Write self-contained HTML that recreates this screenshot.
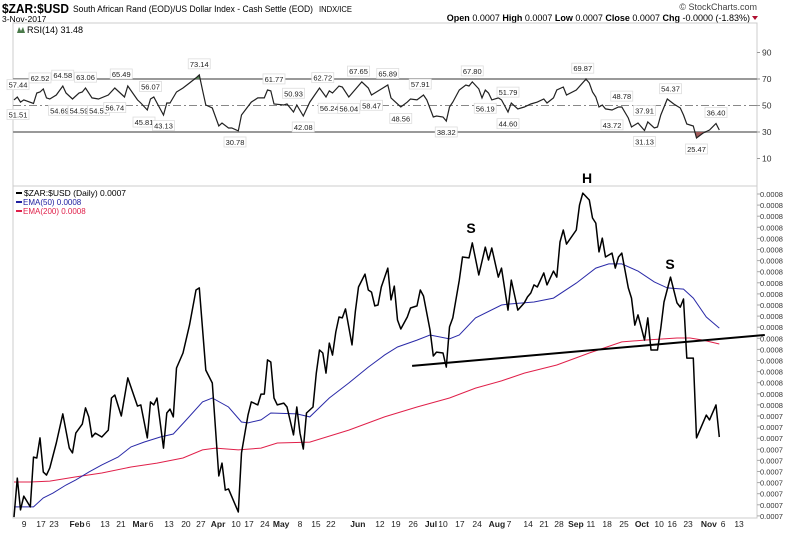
<!DOCTYPE html>
<html><head><meta charset="utf-8"><style>
body{margin:0;background:#fff;width:800px;height:531px;overflow:hidden;font-family:"Liberation Sans",sans-serif}
svg text{font-family:"Liberation Sans",sans-serif}
</style></head><body>
<svg id="chart" width="800" height="531" xmlns="http://www.w3.org/2000/svg">
<g>
<text x="2" y="13" font-size="13" font-weight="bold" textLength="67" lengthAdjust="spacingAndGlyphs">$ZAR:$USD</text>
<text x="73" y="12" font-size="9.5" textLength="240" lengthAdjust="spacingAndGlyphs">South African Rand (EOD)/US Dollar Index - Cash Settle (EOD)</text>
<text x="319" y="12" font-size="8" textLength="33" lengthAdjust="spacingAndGlyphs">INDX/ICE</text>
<text x="2" y="22" font-size="8.5">3-Nov-2017</text>
<text x="757" y="10" font-size="9" text-anchor="end" fill="#444">© StockCharts.com</text>
<text x="750" y="21" font-size="9" text-anchor="end"><tspan font-weight="bold">Open</tspan> 0.0007  <tspan font-weight="bold">High</tspan> 0.0007  <tspan font-weight="bold">Low</tspan> 0.0007  <tspan font-weight="bold">Close</tspan> 0.0007  <tspan font-weight="bold">Chg</tspan> -0.0000 (-1.83%)</text>
<path d="M752,16 L758,16 L755,20 Z" fill="#b01030"/>
</g>
<g>
<rect x="13" y="23" width="744" height="163" fill="none" stroke="#ccc"/>
<path d="M17,33 L19,27 L21,31 L23,27 L25,33 Z" fill="#4a7a4a"/>
<text x="27" y="33" font-size="9" font-family="Liberation Mono">RSI(14) 31.48</text>
<g id="rsiG"></g>
</g>
<g>
<rect x="13" y="186" width="744" height="332" fill="none" stroke="#ccc"/>
<g>
<line x1="16" y1="193" x2="22" y2="193" stroke="#000" stroke-width="2"/>
<text x="24" y="196" font-size="8.5">$ZAR:$USD (Daily) 0.0007</text>
<line x1="16" y1="202" x2="22" y2="202" stroke="#2020a0" stroke-width="2"/>
<text x="23" y="205" font-size="8" fill="#2020a0">EMA(50) 0.0008</text>
<line x1="16" y1="211" x2="22" y2="211" stroke="#e0204a" stroke-width="2"/>
<text x="23" y="214" font-size="8" fill="#e0204a">EMA(200) 0.0008</text>
</g>
<g id="priceG"></g>
<text x="471" y="233" font-size="14" font-weight="bold" text-anchor="middle">S</text>
<text x="587" y="183" font-size="14" font-weight="bold" text-anchor="middle">H</text>
<text x="670" y="269" font-size="14" font-weight="bold" text-anchor="middle">S</text>
</g>
<g id="xAxisG"></g>
</svg>
<script>
const priceDays=[0,1,2,3,5,6,7,8,9,10,11,13,15,17,18,19,21,22,23,24,25,27,29,30,31,33,35,38,39,41,42,43,44,46,47,48,49,50,52,54,56,57,59,61,63,64,65,66,69,70,72,73,75,76,77,78,79,80,81,83,84,86,87,88,89,90,92,93,94,95,96,97,98,99,100,101,102,104,105,106,108,109,110,111,112,113,115,116,117,118,119,121,122,124,125,126,128,129,130,132,133,134,135,137,138,140,141,143,145,146,147,149,150,152,153,155,157,158,159,160,161,163,164,166,167,168,169,170,173,174,175,177,178,179,180,181,182,184,185,186,187,189,190,191,192,194,195,196,198,199,200,202,204,205,206,207,209,210,213,214,216,217];
const priceVals=[6.903,7.033,6.927,6.973,6.937,7.103,7.100,7.167,7.053,7.043,7.067,7.150,7.247,7.133,7.117,7.183,7.213,7.267,7.237,7.170,7.183,7.170,7.193,7.300,7.310,7.240,7.367,7.273,7.277,7.167,7.287,7.277,7.300,7.133,7.250,7.263,7.237,7.400,7.450,7.543,7.660,7.667,7.393,7.350,7.040,7.083,6.993,6.997,6.920,7.117,7.243,7.287,7.277,7.313,7.313,7.427,7.420,7.300,7.277,7.283,7.270,7.177,7.270,7.183,7.130,7.250,7.270,7.383,7.460,7.450,7.383,7.483,7.443,7.520,7.570,7.567,7.597,7.477,7.587,7.670,7.713,7.660,7.653,7.607,7.610,7.670,7.733,7.627,7.673,7.560,7.530,7.570,7.600,7.607,7.660,7.640,7.527,7.440,7.453,7.450,7.403,7.537,7.567,7.693,7.770,7.767,7.817,7.710,7.803,7.760,7.800,7.703,7.733,7.593,7.693,7.593,7.617,7.637,7.650,7.677,7.670,7.717,7.677,7.723,7.703,7.820,7.860,7.813,7.860,7.943,7.983,7.960,7.900,7.883,7.787,7.833,7.770,7.783,7.733,7.770,7.783,7.667,7.633,7.543,7.577,7.493,7.567,7.460,7.460,7.533,7.620,7.703,7.617,7.603,7.630,7.433,7.433,7.167,7.243,7.227,7.277,7.170];
const ema50Days=[0,6,9,12,16,19,23,27,32,36,40,45,49,53,58,61,66,70,72,76,79,87,91,97,103,109,114,118,124,128,134,137,142,150,152,160,166,173,179,183,187,192,197,201,206,209,213,217];
const ema50Vals=[6.937,6.937,6.967,6.983,7.010,7.027,7.053,7.077,7.103,7.137,7.153,7.170,7.180,7.227,7.287,7.300,7.270,7.220,7.217,7.227,7.250,7.247,7.237,7.300,7.350,7.403,7.443,7.470,7.493,7.510,7.497,7.510,7.567,7.610,7.613,7.620,7.633,7.683,7.733,7.747,7.747,7.723,7.687,7.667,7.663,7.633,7.570,7.533];
const ema200Days=[0,5,11,19,27,36,44,52,58,62,69,76,81,91,103,114,124,134,142,150,157,167,177,187,194,204,208,212,217];
const ema200Vals=[7.020,7.020,7.023,7.037,7.050,7.070,7.083,7.100,7.127,7.133,7.127,7.133,7.150,7.153,7.193,7.237,7.270,7.300,7.333,7.357,7.383,7.410,7.450,7.487,7.493,7.500,7.500,7.493,7.480];
const necklineDays=[122.5,231];
const necklineVals=[7.407,7.510];
const rsiDays=[0,1,2,3,6,7,8,9,10,11,13,15,16,18,20,21,22,24,26,29,31,34,35,38,39,41,42,43,44,46,47,48,50,52,54,56,57,58,59,61,63,64,66,67,69,70,73,75,77,78,79,80,83,84,86,87,89,91,94,96,97,98,100,101,103,107,109,110,115,116,119,121,122,124,126,127,129,130,132,133,134,135,137,139,140,141,143,144,145,146,147,149,150,151,152,153,155,157,159,161,163,164,166,167,169,170,173,176,177,178,179,180,181,182,184,186,187,189,190,192,194,195,197,198,199,201,203,205,206,207,209,210,212,214,216,217];
const rsiVals=[54.2,56.4,52.6,54.2,51.5,59.4,60.2,62.5,55.7,54.9,57.9,64.7,59.4,54.9,59.4,60.2,63.2,55.7,54.9,57.9,63.2,56.4,64.7,54.2,51.9,46.6,54.9,56.4,51.9,42.8,51.9,51.9,60.2,63.2,67.0,70.8,73.1,61.7,50.4,48.1,34.5,36.8,33.0,33.0,30.8,42.8,52.6,55.7,55.7,61.7,61.0,51.1,50.4,51.1,45.1,50.4,42.1,52.6,63.2,56.4,61.0,59.4,64.7,64.0,56.4,67.8,63.2,57.9,65.5,55.7,48.9,52.6,54.9,54.2,57.9,54.2,41.3,42.1,41.3,38.3,48.9,52.6,61.7,65.5,64.7,67.8,62.5,55.7,61.7,59.4,54.2,55.7,54.2,49.6,45.1,51.9,47.4,48.9,51.1,52.6,54.9,51.9,55.7,61.7,64.0,57.9,61.7,69.9,67.0,60.2,56.4,48.9,50.4,47.4,46.6,48.9,48.9,40.6,33.8,36.8,31.1,37.6,33.0,33.8,42.8,54.9,51.1,48.1,42.8,36.0,34.5,25.5,29.2,31.5,36.4,31.5];
const rsiLabelDays=[1,0,8,14,15,20,22,26,31,33,42,40,46,57,68,80,86,89,95,97,103,110,106,115,119,125,133,141,145,152,152,175,187,184,194,194,202,210,216];
const rsiLabelVals=[57.44,51.51,62.52,54.69,64.58,54.59,63.06,54.55,56.74,65.49,56.07,45.81,43.13,73.14,30.78,61.77,50.93,42.08,62.72,56.24,56.04,58.47,67.65,65.89,48.56,57.91,38.32,67.80,56.19,51.79,44.60,69.87,48.78,43.72,37.91,31.13,54.37,25.47,36.40];
const rsiLabelDir=[1,-1,1,-1,1,-1,1,-1,-1,1,1,-1,-1,1,-1,1,1,-1,1,-1,-1,-1,1,1,-1,1,-1,1,-1,1,-1,1,1,-1,1,-1,1,-1,1];
const rsiTicks=[90,70,50,30,10];
const priceTickVals=[7.980,7.943,7.906,7.869,7.832,7.795,7.758,7.721,7.684,7.647,7.610,7.573,7.536,7.499,7.462,7.425,7.388,7.351,7.314,7.277,7.240,7.203,7.166,7.129,7.092,7.055,7.018,6.981,6.944,6.907];
const priceTickLabels=["0.0008","0.0008","0.0008","0.0008","0.0008","0.0008","0.0008","0.0008","0.0008","0.0008","0.0008","0.0008","0.0008","0.0008","0.0008","0.0008","0.0008","0.0008","0.0008","0.0008","0.0007","0.0007","0.0007","0.0007","0.0007","0.0007","0.0007","0.0007","0.0007","0.0007"];
const xTickDays=[3.1,8.3,12.3,19.4,22.8,28,32.9,38.8,42.2,47.7,52.9,57.5,62.8,68.3,72.3,77.2,82.2,88,92.9,97.5,105.8,112.6,117.5,122.8,128.3,132,137.2,142.5,148.6,152.3,158.2,163.1,167.7,172.9,177.5,182.5,187.7,193.2,198.5,202.5,207.4,213.8,218.2,223.1];
const xTickLabels=["9","17","23","Feb","6","13","21","Mar","6","13","20","27","Apr","10","17","24","May","8","15","22","Jun","12","19","26","Jul","10","17","24","Aug","7","14","21","28","Sep","11","18","25","Oct","10","16","23","Nov","6","13"];
const xTickBold=[0,0,0,1,0,0,0,1,0,0,0,0,1,0,0,0,1,0,0,0,1,0,0,0,1,0,0,0,1,0,0,0,0,1,0,0,0,1,0,0,0,1,0,0];

const NS="http://www.w3.org/2000/svg";
const xS=d=>14+d*3.25;
const pY=p=>518-(p-6.9)*300;
const rY=r=>132-(r-30)*1.325;
function mk(tag,attrs,parent){const e=document.createElementNS(NS,tag);for(const k in attrs)e.setAttribute(k,attrs[k]);parent.appendChild(e);return e;}
function pts(ds,vs,fy){return ds.map((d,i)=>xS(d).toFixed(1)+","+fy(vs[i]).toFixed(1)).join(" ");}

const rsiG=document.getElementById('rsiG');
const defs=mk('defs',{},rsiG);
const c1=mk('clipPath',{id:'above70'},defs);mk('rect',{x:13,y:23,width:744,height:rY(70)-23},c1);
const c2=mk('clipPath',{id:'below30'},defs);mk('rect',{x:13,y:rY(30),width:744,height:186-rY(30)},c2);
[70,30].forEach(v=>{
  const l=mk('line',{x1:13,x2:757,y1:rY(v),y2:rY(v),stroke:'#999','stroke-width':2},rsiG);
  
  
});
const mid=mk('line',{x1:13,x2:757,y1:rY(50),y2:rY(50),stroke:'#888','stroke-dasharray':'8,3,2,3'},rsiG);


const rp=pts(rsiDays,rsiVals,rY);
const fa=mk('polygon',{points:rp+` ${xS(rsiDays[rsiDays.length-1])},${rY(70)} ${xS(0)},${rY(70)}`,fill:'#5a8a5a','clip-path':'url(#above70)'},rsiG);


const fb=mk('polygon',{points:rp+` ${xS(rsiDays[rsiDays.length-1])},${rY(30)} ${xS(0)},${rY(30)}`,fill:'#a05a5a','clip-path':'url(#below30)'},rsiG);


const rl=mk('polyline',{points:rp,fill:'none',stroke:'#222','stroke-width':1.2},rsiG);


rsiTicks.forEach(t=>{
  const tx=mk('text',{x:762,y:rY(t)+3,'font-size':8.5,fill:'#333'},rsiG);tx.textContent=t;
  
  
  mk('line',{x1:757,x2:760,y1:rY(t),y2:rY(t),stroke:'#999'},rsiG);
});
rsiLabelDays.forEach((d,i)=>{
  const v=rsiLabelVals[i];
  const cx=Math.max(18,xS(d));
  const cy=rY(v)-rsiLabelDir[i]*11;
  const g=mk('g',{},rsiG);
  
  
  mk('rect',{x:cx-11,y:cy-5,width:22,height:10,fill:'#fff',stroke:'#ddd','stroke-width':0.8},g);
  const t=mk('text',{x:cx,y:cy+3,'font-size':7.5,'text-anchor':'middle',fill:'#222'},g);t.textContent=v.toFixed(2);
});

const priceG=document.getElementById('priceG');
priceTickVals.forEach((v,i)=>{
  const t=mk('text',{x:760,y:pY(v)+3,'font-size':7.5,fill:'#333'},priceG);t.textContent=priceTickLabels[i];
  
  
  mk('line',{x1:757,x2:760,y1:pY(v),y2:pY(v),stroke:'#aaa'},priceG);
});
const e200=mk('polyline',{points:pts(ema200Days,ema200Vals,pY),fill:'none',stroke:'#e0204a','stroke-width':1},priceG);


const e50=mk('polyline',{points:pts(ema50Days,ema50Vals,pY),fill:'none',stroke:'#2a2aa8','stroke-width':1},priceG);


const pl=mk('polyline',{points:pts(priceDays,priceVals,pY),fill:'none',stroke:'#000','stroke-width':1.5,'stroke-linejoin':'round'},priceG);


const nk=mk('polyline',{points:pts(necklineDays,necklineVals,pY),fill:'none',stroke:'#000','stroke-width':2},priceG);



const xg=document.getElementById('xAxisG');
mk('line',{x1:13,x2:757,y1:518,y2:518,stroke:'#ccc','stroke-dasharray':'1,2'},xg);
xTickDays.forEach((d,i)=>{
  const t=mk('text',{x:xS(d),y:527,'font-size':8.5,'text-anchor':'middle','font-weight':xTickBold[i]?'bold':'normal',fill:'#222'},xg);
  t.textContent=xTickLabels[i];
  
  
});
</script>
</body></html>
